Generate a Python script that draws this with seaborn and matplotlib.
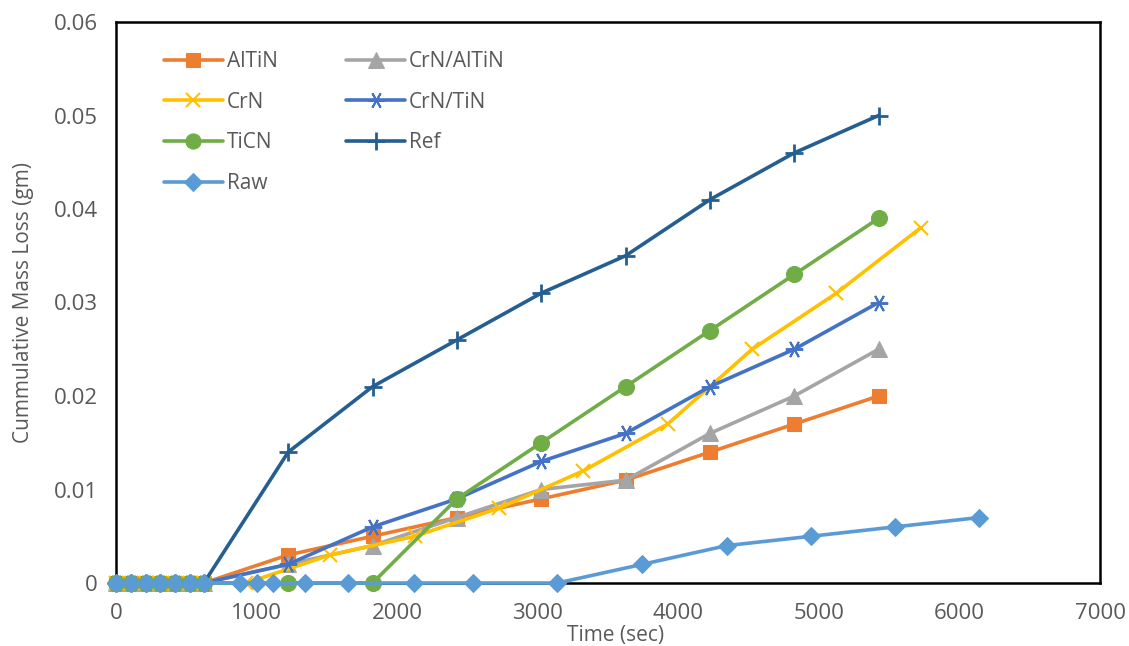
import numpy as np
import pandas as pd
import matplotlib
matplotlib.use("Agg")
import matplotlib.pyplot as plt
import seaborn as sns

# ---- data ----
early_t = [0, 105, 210, 315, 420, 525, 625]
main_t = [1225, 1825, 2425, 3025, 3625, 4225, 4825, 5425]

altin = [0, 0, 0, 0, 0, 0, 0, 0.003, 0.005, 0.007, 0.009, 0.011, 0.014, 0.017, 0.020]
crn_altin = [0, 0, 0, 0, 0, 0, 0, 0.002, 0.004, 0.007, 0.010, 0.011, 0.016, 0.020, 0.025]
crn_tin = [0, 0, 0, 0, 0, 0, 0, 0.002, 0.006, 0.009, 0.013, 0.016, 0.021, 0.025, 0.030]
ticn = [0, 0, 0, 0, 0, 0, 0, 0, 0, 0.009, 0.015, 0.021, 0.027, 0.033, 0.039]
ref = [0, 0, 0, 0, 0, 0, 0, 0.014, 0.021, 0.026, 0.031, 0.035, 0.041, 0.046, 0.050]

crn_t = [0, 105, 210, 315, 420, 525, 625, 925, 1525, 2125, 2725, 3325, 3925, 4525, 5125, 5725]
crn = [0, 0, 0, 0, 0, 0, 0, 0, 0.003, 0.005, 0.008, 0.012, 0.017, 0.025, 0.031, 0.038]

raw_t = [0, 105, 210, 315, 420, 525, 625, 880, 1000, 1120, 1345, 1650, 2120, 2540,
         3140, 3745, 4345, 4945, 5540, 6140]
raw = [0, 0, 0, 0, 0, 0, 0, 0, 0, 0, 0, 0, 0, 0, 0, 0.002, 0.004, 0.005, 0.006, 0.007]

x_ticks = [0, 1000, 2000, 3000, 4000, 5000, 6000, 7000]
y_ticks = [0, 0.01, 0.02, 0.03, 0.04, 0.05, 0.06]
y_tick_labels = ["0", "0.01", "0.02", "0.03", "0.04", "0.05", "0.06"]

sns.set_theme(style="white")
plt.rcParams['font.family'] = ['Open Sans', 'DejaVu Sans']

FS = 15
TFS = 16
fig = plt.figure(figsize=(11.29, 6.46), dpi=100)
ax = fig.add_axes([116 / 1129, 1 - 583 / 646, (1100 - 116) / 1129, (583 - 22) / 646])

t_all = early_t + main_t
series = [
    ("AlTiN", t_all, altin, "#ED7D31", dict(marker="s", markersize=10.5)),
    ("CrN/AlTiN", t_all, crn_altin, "#A5A5A5", dict(marker="^", markersize=11.5)),
    ("CrN", crn_t, crn, "#FFC000", dict(marker="x", markersize=10.5, markeredgewidth=1.5)),
    ("CrN/TiN", t_all, crn_tin, "#4472C4", dict(marker=(6, 2, 90), markersize=12.5, markeredgewidth=1.4)),
    ("TiCN", t_all, ticn, "#70AD47", dict(marker="o", markersize=11.5)),
    ("Ref", t_all, ref, "#255E91", dict(marker="+", markersize=13, markeredgewidth=2)),
    ("Raw", raw_t, raw, "#5B9BD5", dict(marker="D", markersize=9.5)),
]

for name, t, v, col, mk in series:
    df = pd.DataFrame({"t": t, "v": v})
    sns.lineplot(data=df, x="t", y="v", ax=ax, color=col, linewidth=2.6,
                 markeredgecolor=col, label=name, sort=False, estimator=None,
                 clip_on=False, zorder=3, **mk)

ax.set_xlim(0, 7000)
ax.set_ylim(0, 0.06)
ax.set_xticks(x_ticks)
ax.set_xticklabels([str(x) for x in x_ticks])
ax.set_yticks(y_ticks)
ax.set_yticklabels(y_tick_labels)
ax.tick_params(axis="both", length=0, labelsize=TFS, colors="#595959")
ax.tick_params(axis="x", pad=14.5)
ax.tick_params(axis="y", pad=13)

for s in ax.spines.values():
    s.set_visible(True)
    s.set_color("black")
    s.set_linewidth(1.8)
    s.set_zorder(2)

ax.set_xlabel("Time (sec)", fontsize=FS, color="#595959")
ax.xaxis.set_label_coords(0.5075, -0.074)
ax.set_ylabel("Cummulative Mass Loss (gm)", fontsize=FS, color="#595959", labelpad=14)

h, l = ax.get_legend_handles_labels()
order = ["AlTiN", "CrN", "TiCN", "Raw", "CrN/AlTiN", "CrN/TiN", "Ref"]
hd = dict(zip(l, h))
leg = ax.legend([hd[k] for k in order], order, ncol=2, frameon=False,
                loc="upper left", bbox_to_anchor=(0.030, 0.982),
                fontsize=FS, handlelength=2.8, columnspacing=3.3,
                labelspacing=0.95, handletextpad=0.2, markerscale=0.95)
for t in leg.get_texts():
    t.set_color("#595959")

fig.savefig("out.png", dpi=100, facecolor="white")
